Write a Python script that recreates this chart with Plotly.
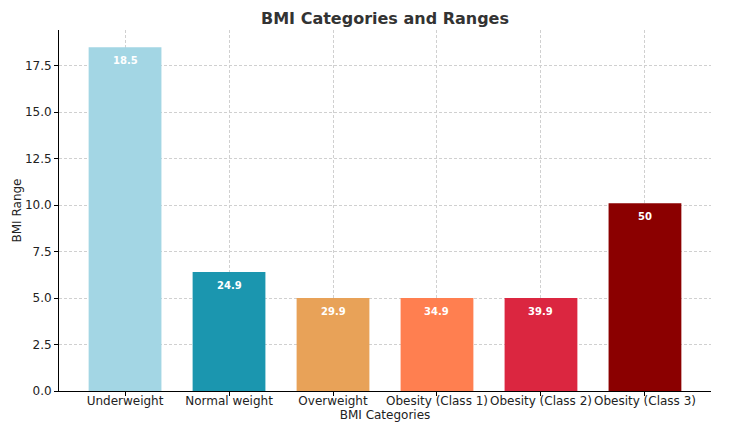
import plotly.graph_objects as go

categories = ["Underweight", "Normal weight", "Overweight",
              "Obesity (Class 1)", "Obesity (Class 2)", "Obesity (Class 3)"]
range_sizes = [18.5, 6.4, 5.0, 5.0, 5.0, 10.1]
upper_labels = ["18.5", "24.9", "29.9", "34.9", "39.9", "50"]
colors = ["#A3D6E4", "#1B96AF", "#E8A258", "#FF7F50", "#DB2640", "#8B0000"]

font = "DejaVu Sans, Verdana, sans-serif"

fig = go.Figure()
fig.add_trace(go.Bar(
    x=categories, y=range_sizes, marker=dict(color=colors, line=dict(width=0)),
    width=0.7, showlegend=False, hoverinfo="skip",
))

for c, v, t in zip(categories, range_sizes, upper_labels):
    fig.add_annotation(x=c, y=v, text="<b>%s</b>" % t, showarrow=False,
                       yshift=-13, font=dict(family=font, size=10, color="white"))

fig.update_layout(
    width=749, height=427,
    margin=dict(l=59, r=38, t=30, b=36, autoexpand=False),
    paper_bgcolor="white", plot_bgcolor="white",
    font=dict(family=font, size=12, color="#222"),
    title=dict(text="<b>BMI Categories and Ranges</b>", x=385 / 749, xanchor="center",
               y=1 - 18 / 427, yanchor="middle",
               font=dict(family=font, size=16, color="#333")),
    bargap=0.3,
)
fig.update_xaxes(
    range=[-0.635, 5.635], showline=True, linecolor="black", linewidth=1,
    ticks="outside", ticklen=4, tickcolor="black", automargin=False, tickangle=0,
    ticklabelstandoff=-5,
    showgrid=True, gridcolor="#d0d0d0", griddash="3px,2px", gridwidth=0.6,
    title=dict(text="BMI Categories", standoff=0, font=dict(size=12)),
    tickfont=dict(size=12, color="#222"),
)
fig.update_yaxes(
    range=[0, 19.425], showline=True, linecolor="black", linewidth=1,
    ticks="outside", ticklen=4, tickcolor="black", automargin=False,
    tickvals=[0, 2.5, 5, 7.5, 10, 12.5, 15, 17.5],
    ticktext=["0.0", "2.5", "5.0", "7.5", "10.0", "12.5", "15.0", "17.5"],
    showgrid=True, gridcolor="#d0d0d0", griddash="3px,2px", gridwidth=0.6,
    zeroline=False,
    title=dict(text="BMI Range", standoff=0, font=dict(size=12)),
    tickfont=dict(size=12, color="#222"),
)

fig.write_html("out.html")
